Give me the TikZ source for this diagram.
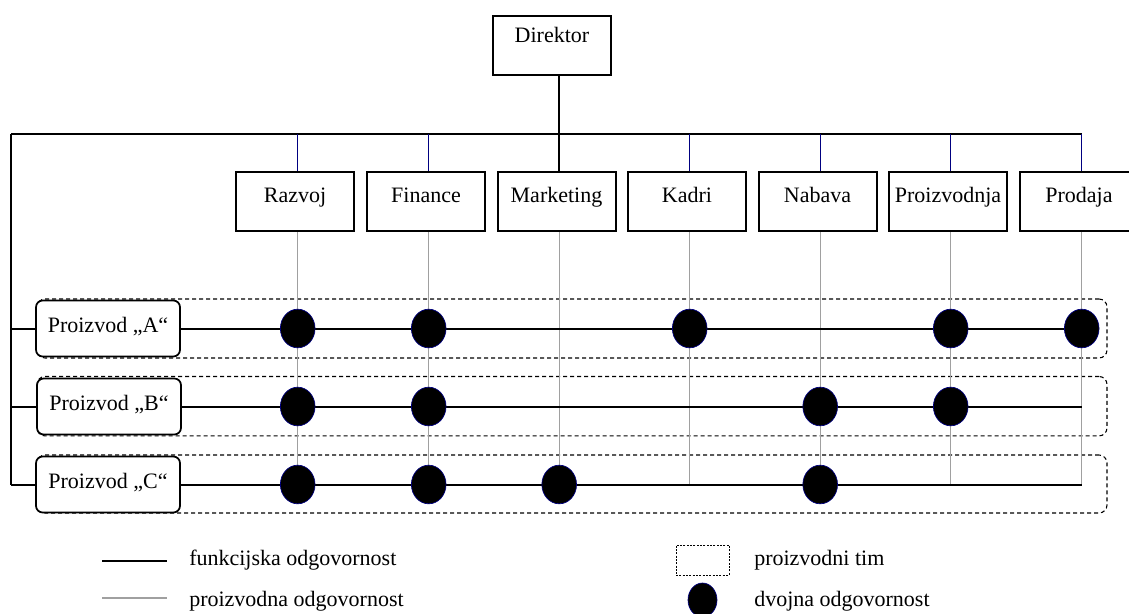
\documentclass[tikz,border=0pt]{standalone}
\usepackage{fontspec}
\setmainfont{Liberation Serif}
\usetikzlibrary{shapes.geometric,calc}
\definecolor{navy}{RGB}{0,0,128}
\definecolor{lgray}{RGB}{160,160,160}
\begin{document}
\begin{tikzpicture}[x=0.75pt,y=-0.75pt,
  font=\fontsize{16.5}{19}\selectfont,
  funcbox/.style={draw, line width=1.5pt, fill=white, inner sep=0pt,
    minimum width=88.5pt, minimum height=44.25pt, text height=11pt, text depth=9pt},
  prodbox/.style={draw, line width=1.3pt, rounded corners=5pt, fill=white, inner sep=0pt,
    minimum width=108pt, minimum height=42pt, text height=11pt, text depth=5pt},
  team/.style={draw, dash pattern=on 3pt off 2.25pt, line width=0.8pt,
    rounded corners=6pt, inner sep=0pt, minimum width=802.5pt},
  dot/.style={ellipse, fill=black, draw=navy, line width=0.5pt, inner sep=0pt,
    minimum width=26pt, minimum height=29pt},
  func/.style={line width=1.5pt},
  prod/.style={draw=lgray, line width=1pt},
  link/.style={draw=navy, line width=1pt},
  legtext/.style={anchor=base west, inner sep=0pt}]
\clip (0,0) rectangle (1129,614);
% director
\node[funcbox, text depth=14.8pt] (dir) at (552,45.5) {Direktor};
\coordinate (busL) at (11,134);
\coordinate (busR) at (1082,134);
% departments
\foreach \n/\t/\x in {raz/{Razvoj\hspace{10.5pt}}/295, fin/Finance/426, mar/Marketing/556.5,
    kad/Kadri/687, nab/Nabava/817.5, pro/Proizvodnja/948, prd/Prodaja/1079} {
  \node[funcbox] (\n) at (\x,201.5) {\t};
  \coordinate (\n-top) at (\x+2.7,134);
}
% team boxes
\node[team, minimum height=44.25pt] (teamA) at (572,328.5) {};
\node[team, minimum height=44.6pt] (teamB) at (572,406.2) {};
\node[team, minimum height=43.5pt] (teamC) at (572,484) {};
% products
\node[prodbox] (pA) at (108,328.5) {Proizvod „A“};
\node[prodbox] (pB) at (109,406.5) {Proizvod „B“};
\node[prodbox] (pC) at (108,484.5) {Proizvod „C“};
% functional lines
\draw[func] (busL) -- (busR);
\draw[func] (dir.south -| mar-top) -- (mar.north -| mar-top);
\foreach \n in {raz,fin,kad,nab,pro,prd} {
  \draw[link] (\n-top) -- (\n.north -| \n-top);
}
\draw[func] (busL) -- (busL |- pC.west);
\foreach \p in {pA,pB,pC} {
  \draw[func] (busL |- \p.west) -- (\p.west);
}
% product responsibility lines
\foreach \n in {raz,fin,mar,kad,nab,pro,prd} {
  \draw[prod] (\n.south -| \n-top) -- (\n-top |- pC.east);
}
\foreach \p in {pA,pB,pC} {
  \draw[func] (\p.east) -- (prd-top |- \p.east);
}
% dual responsibility
\foreach \p/\l in {pA/{raz,fin,kad,pro,prd}, pB/{raz,fin,nab,pro}, pC/{raz,fin,mar,nab}} {
  \foreach \n in \l {
    \node[dot] (\p-\n) at (\n-top |- \p.east) {};
  }
}
% legend
\coordinate (lf1) at (102,561);
\coordinate (lf2) at (167,561);
\coordinate (lp1) at (102,598);
\coordinate (lp2) at (167,598);
\draw[line width=1pt] (lf1) -- (lf2);
\draw[draw=lgray, line width=1pt] (lp1) -- (lp2);
\node[legtext] (tf) at (189,565) {funkcijska odgovornost};
\node[legtext] (tp) at (189,606) {proizvodna odgovornost};
\node[draw, dash pattern=on 1.5pt off 1pt, line width=0.6pt, inner sep=0pt,
  minimum width=39.75pt, minimum height=22.5pt] (lteam) at (702.5,560) {};
\node[dot, minimum width=21.75pt, minimum height=25.5pt] (ldot) at (702.5,600) {};
\node[legtext] (tt) at (754,565) {proizvodni tim};
\node[legtext] (td) at (754,606) {dvojna odgovornost};
\end{tikzpicture}
\end{document}
